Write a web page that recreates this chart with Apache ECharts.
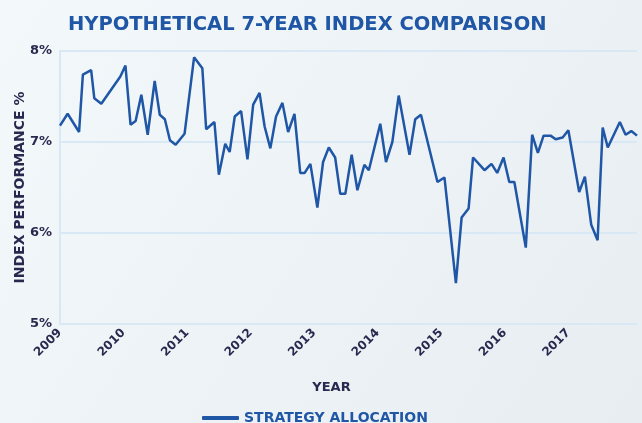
<!DOCTYPE html>
<html>
<head>
<meta charset="utf-8">
<script src="https://cdn.jsdelivr.net/npm/echarts@6/dist/echarts.min.js"></script>
<style>
    html, body { margin: 0; padding: 0; }
    #chart { width: 642px; height: 423px; }
</style>
</head>
<body>
<div id="chart"></div>
<script>
// positions in fractional years, values in %
const years = [
    2009.00, 2009.12, 2009.30, 2009.36, 2009.49, 2009.54, 2009.65, 2009.95, 2010.03, 2010.11,
    2010.19, 2010.28, 2010.38, 2010.49, 2010.57, 2010.65, 2010.73, 2010.82, 2010.96, 2011.11,
    2011.24, 2011.30, 2011.43, 2011.50, 2011.60, 2011.67, 2011.75, 2011.85, 2011.95, 2012.04,
    2012.14, 2012.22, 2012.31, 2012.40, 2012.50, 2012.59, 2012.69, 2012.78, 2012.85, 2012.94,
    2013.05, 2013.14, 2013.23, 2013.33, 2013.41, 2013.49, 2013.59, 2013.68, 2013.79, 2013.86,
    2014.04, 2014.13, 2014.23, 2014.33, 2014.50, 2014.59, 2014.68, 2014.94, 2015.05, 2015.23,
    2015.32, 2015.43, 2015.50, 2015.68, 2015.79, 2015.88, 2015.98, 2016.07, 2016.15, 2016.33,
    2016.43, 2016.52, 2016.61, 2016.72, 2016.80, 2016.91, 2017.00, 2017.17, 2017.26, 2017.36,
    2017.46, 2017.54, 2017.62, 2017.81, 2017.90, 2017.99, 2018.08
];
const strategy = [
    7.18, 7.31, 7.11, 7.74, 7.79, 7.48, 7.42, 7.72, 7.84, 7.19,
    7.23, 7.52, 7.08, 7.67, 7.30, 7.25, 7.02, 6.97, 7.09, 7.93,
    7.81, 7.14, 7.22, 6.64, 6.98, 6.89, 7.28, 7.34, 6.81, 7.41,
    7.54, 7.17, 6.93, 7.28, 7.43, 7.11, 7.31, 6.66, 6.66, 6.76,
    6.28, 6.78, 6.94, 6.83, 6.43, 6.43, 6.86, 6.47, 6.75, 6.69,
    7.20, 6.78, 7.00, 7.51, 6.86, 7.25, 7.30, 6.56, 6.61, 5.45,
    6.17, 6.27, 6.83, 6.69, 6.76, 6.66, 6.83, 6.56, 6.56, 5.84,
    7.08, 6.88, 7.07, 7.07, 7.03, 7.05, 7.13, 6.45, 6.62, 6.09,
    5.92, 7.16, 6.94, 7.22, 7.08, 7.12, 7.07
];
const lastYearLabel = 2017;

const navy = '#29284f';
const blue = '#1f56a5';
const gridColor = '#d8e9f5';

const chart = echarts.init(document.getElementById('chart'));
chart.setOption({
    backgroundColor: new echarts.graphic.LinearGradient(0, 0, 1, 1, [
        {offset: 0, color: '#f3f8fb'},
        {offset: 1, color: '#e8edf1'},
    ]),
    animation: false,
    textStyle: {fontFamily: 'DejaVu Sans'},
    title: {
        text: 'HYPOTHETICAL 7-YEAR INDEX COMPARISON',
        left: 63,
        top: 10,
        textStyle: {color: blue, fontSize: 19.5, fontWeight: 'bold'},
    },
    grid: {left: 60, right: 5, top: 51, bottom: 99, outerBoundsMode: 'none'},
    legend: {
        bottom: -7,
        left: 197,
        icon: 'roundRect',
        itemWidth: 37,
        itemHeight: 4,
        textStyle: {color: blue, fontSize: 14, fontWeight: 'bold'},
        data: ['STRATEGY ALLOCATION'],
    },
    xAxis: {
        type: 'value',
        min: 2009,
        max: years[years.length - 1],
        interval: 1,
        name: 'YEAR',
        nameLocation: 'middle',
        nameGap: 57,
        nameMoveOverlap: false,
        nameTextStyle: {color: navy, fontSize: 13, fontWeight: 'bold', padding: [0, 34, 0, 0]},
        axisLine: {show: false},
        axisTick: {show: false},
        splitLine: {show: false},
        axisLabel: {
            rotate: 45,
            margin: 7,
            color: navy,
            fontSize: 12,
            fontWeight: 'bold',
            showMaxLabel: false,
            formatter: v => (v <= lastYearLabel ? String(v) : ''),
        },
    },
    yAxis: {
        type: 'value',
        min: 5,
        max: 8,
        interval: 1,
        name: 'INDEX PERFORMANCE %',
        nameLocation: 'middle',
        nameGap: 33,
        nameMoveOverlap: false,
        nameTextStyle: {color: navy, fontSize: 14, fontWeight: 'bold'},
        axisLine: {show: true, lineStyle: {color: gridColor, width: 2}},
        axisTick: {show: false},
        splitLine: {show: true, lineStyle: {color: gridColor, width: 2}},
        axisLabel: {
            color: navy,
            fontSize: 13,
            fontWeight: 'bold',
            margin: 8,
            formatter: '{value}%',
        },
    },
    series: [
        {
            name: 'STRATEGY ALLOCATION',
            type: 'line',
            data: years.map((y, i) => [y, strategy[i]]),
            showSymbol: false,
            symbol: 'none',
            lineStyle: {color: blue, width: 2.5},
            itemStyle: {color: blue},
        },
    ],
});
</script>
</body>
</html>
